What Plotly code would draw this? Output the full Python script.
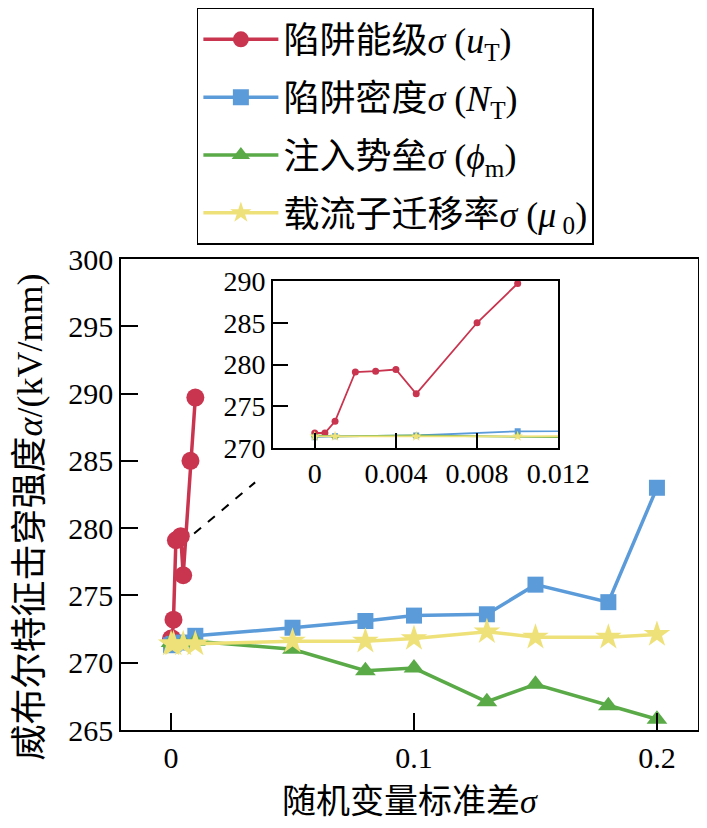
import plotly.graph_objects as go

# ---- data ----
x_red = [0, 0.0005, 0.001, 0.002, 0.003, 0.004, 0.005, 0.008, 0.01]
y_red = [271.8, 271.8, 273.2, 279.1, 279.2, 279.4, 276.5, 285.0, 289.7]

x_oth = [0, 0.001, 0.005, 0.01, 0.05, 0.08, 0.1, 0.13, 0.15, 0.18, 0.2]
y_blue = [271.3, 271.4, 271.5, 272.0, 272.6, 273.1, 273.5, 273.6, 275.8, 274.5, 283.0]
y_green = [271.5, 271.4, 271.5, 271.6, 271.0, 269.4, 269.6, 267.1, 268.4, 266.8, 265.8]
y_yellow = [271.4, 271.4, 271.4, 271.4, 271.6, 271.6, 271.8, 272.3, 271.9, 271.9, 272.1]

names = ["陷阱能级<i>σ</i> (<i>u</i><sub>T</sub>)",
         "陷阱密度<i>σ</i> (<i>N</i><sub>T</sub>)",
         "注入势垒<i>σ</i> (<i>ϕ</i><sub>m</sub>)",
         "载流子迁移率<i>σ</i> (<i>μ</i><sub> 0</sub>)"]

main_xticks = [0, 0.1, 0.2]
main_xlabels = ["0", "0.1", "0.2"]
main_yticks = [265, 270, 275, 280, 285, 290, 295, 300]
inset_xticks = [0, 0.004, 0.008, 0.012]
inset_xlabels = ["0", "0.004", "0.008", "0.012"]
inset_yticks = [270, 275, 280, 285, 290]

zoom_line_x = [0.0095, 0.0346]
zoom_line_y = [279.6, 283.4]

RED = "#C9344F"
BLUE = "#5B9BDA"
GREEN = "#5AAA48"
YELLOW = "#EFE17A"

FONT = "Liberation Serif, Noto Sans CJK SC, serif"

series = [
    (x_red, y_red, RED, "circle", 18, 7),
    (x_oth, y_blue, BLUE, "square", 16, 6),
    (x_oth, y_green, GREEN, "triangle-up", 18, 7),
    (x_oth, y_yellow, YELLOW, "star", 20, 8),
]

fig = go.Figure()
for i, (xs, ys, col, sym, ms, ms2) in enumerate(series):
    fig.add_trace(go.Scatter(
        x=xs, y=ys, mode="lines+markers", name=names[i],
        line=dict(color=col, width=3.5),
        marker=dict(color=col, symbol=sym, size=ms),
        xaxis="x", yaxis="y", legendgroup=str(i)))
for i, (xs, ys, col, sym, ms, ms2) in enumerate(series):
    fig.add_trace(go.Scatter(
        x=xs, y=ys, mode="lines+markers", showlegend=False,
        line=dict(color=col, width=1.8),
        marker=dict(color=col, symbol=sym, size=ms2),
        xaxis="x2", yaxis="y2", cliponaxis=True))

fig.add_shape(type="line", xref="x", yref="y",
              x0=zoom_line_x[0], y0=zoom_line_y[0], x1=zoom_line_x[1], y1=zoom_line_y[1],
              line=dict(color="black", width=2, dash="dash"))

fig.add_annotation(text="威布尔特征击穿强度<i>α</i>/(kV/mm)", textangle=-90,
                   xref="paper", yref="paper", x=-0.157, y=0.452,
                   xanchor="center", yanchor="middle", showarrow=False,
                   font=dict(size=36, family=FONT, color="black"))

# page body has an 8px default margin, so the figure is sized/offset to compensate
fig.update_layout(
    width=691, height=812,
    margin=dict(l=113, r=1, t=251, b=90, autoexpand=False),
    paper_bgcolor="white", plot_bgcolor="white",
    font=dict(family=FONT, color="black", size=29),
    showlegend=True,
    legend=dict(x=0.1315, y=1.533, xanchor="left", yanchor="top",
                bordercolor="black", borderwidth=1.5,
                font=dict(size=36, family=FONT),
                itemwidth=75, tracegroupgap=8, bgcolor="white"),
    xaxis=dict(domain=[0, 1], range=[-0.0206, 0.2169], automargin=False,
               tickvals=main_xticks, ticktext=main_xlabels,
               ticks="inside", ticklen=17, tickwidth=1.5, tickcolor="black",
               showline=True, linecolor="black", linewidth=1.5, mirror=True,
               showgrid=False, zeroline=False,
               tickfont=dict(size=30),
               title=dict(text="随机变量标准差<i>σ</i>", font=dict(size=34), standoff=17)),
    yaxis=dict(domain=[0, 1], range=[265, 300], automargin=False,
               tickvals=main_yticks,
               ticks="inside", ticklen=17, tickwidth=1.5, tickcolor="black",
               showline=True, linecolor="black", linewidth=1.5, mirror=True,
               showgrid=False, zeroline=False,
               tickfont=dict(size=30)),
    xaxis2=dict(domain=[0.2630, 0.7578], anchor="y2", range=[-0.00207, 0.012], automargin=False,
                tickvals=inset_xticks, ticktext=inset_xlabels,
                ticks="inside", ticklen=15, tickwidth=1.5, tickcolor="black",
                showline=True, linecolor="black", linewidth=1.5, mirror=True,
                showgrid=False, zeroline=False, tickfont=dict(size=28)),
    yaxis2=dict(domain=[0.5987, 0.9533], anchor="x2", range=[270, 290], automargin=False,
                tickvals=inset_yticks,
                ticks="inside", ticklen=15, tickwidth=1.5, tickcolor="black",
                showline=True, linecolor="black", linewidth=1.5, mirror=True,
                showgrid=False, zeroline=False, tickfont=dict(size=28)),
)

fig.write_html("out.html")
